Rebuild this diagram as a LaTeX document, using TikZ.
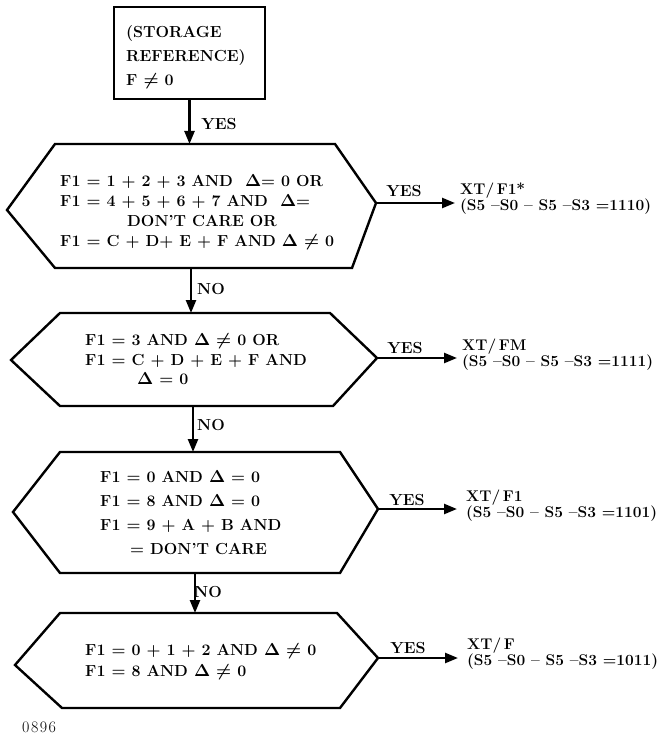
\documentclass[tikz,border=0pt]{standalone}
\usetikzlibrary{arrows.meta}
\tikzset{
  ln/.style={line width=2.4pt, line join=miter},
  boxln/.style={line width=2.6pt},
  arr/.style={line width=2.4pt, -{Triangle[length=13pt,width=10pt]}},
  lbl/.style={inner sep=0pt, font=\fontsize{16}{17}\selectfont\bfseries\boldmath},
  blk/.style={inner sep=0pt, anchor=west, align=left},
}
\begin{document}
\begin{tikzpicture}[x=1pt,y=-1pt]
\useasboundingbox (0,0) rectangle (658,735);

% top box
\node[draw, boxln, minimum width=151pt, minimum height=92pt, inner sep=0pt] (box) at (189.5,53) {};
\node[blk, font=\fontsize{16}{24}\selectfont\bfseries\boldmath] (boxt) at (126,57) {(STORAGE\\REFERENCE)\\F $\neq$ 0};

% hexagon 1
\draw[ln] (7,210) -- (55,144) -- (335,144) -- (376,203) -- (352,268) -- (55,268) -- cycle;
\coordinate (h1t) at (189.5,144);
\coordinate (h1b) at (191,268);
\coordinate (h1r) at (376,203);
\node[blk, font=\fontsize{16}{20}\selectfont\bfseries\boldmath] (t1) at (60,212) {F1 = 1 + 2 + 3 AND \ $\Delta$= 0 OR\\F1 = 4 + 5 + 6 + 7 AND \ $\Delta$=\\\hspace*{67pt}DON'T CARE OR\\F1 = C + D+ E + F AND $\Delta$ $\neq$ 0};

% hexagon 2
\draw[ln] (11,360) -- (60,313) -- (330,313) -- (377,358) -- (333,406) -- (60,406) -- cycle;
\coordinate (h2t) at (191,313);
\coordinate (h2b) at (193,406);
\coordinate (h2r) at (377,358);
\node[blk, font=\fontsize{16}{19.5}\selectfont\bfseries\boldmath] (t2) at (85,359.5) {F1 = 3 AND $\Delta$ $\neq$ 0 OR\\F1 = C + D + E + F AND\\\hspace*{52pt}$\Delta$ = 0};

% hexagon 3
\draw[ln] (13,512) -- (60,452) -- (340,452) -- (378,509) -- (340,573) -- (60,573) -- cycle;
\coordinate (h3t) at (193,452);
\coordinate (h3b) at (195,573);
\coordinate (h3r) at (378,509);
\node[blk, font=\fontsize{16}{24}\selectfont\bfseries\boldmath] (t3) at (100,513) {F1 = 0 AND $\Delta$ = 0\\F1 = 8 AND $\Delta$ = 0\\F1 = 9 + A + B AND\\\hspace*{30pt}= DON'T CARE};

% hexagon 4
\draw[ln] (15,665) -- (60,613) -- (337,613) -- (378,658) -- (340,708) -- (62,708) -- cycle;
\coordinate (h4t) at (195,613);
\coordinate (h4r) at (378,658);
\node[blk, font=\fontsize{16}{21}\selectfont\bfseries\boldmath] (t4) at (85,662) {F1 = 0 + 1 + 2 AND $\Delta$ $\neq$ 0\\F1 = 8 AND $\Delta$ $\neq$ 0};

% vertical connectors
\draw[arr] (box.south) -- (h1t);
\node[lbl] (yes0) at (219,124) {YES};
\draw[arr] (h1b) -- (h2t);
\node[lbl] (no1) at (211,289) {NO};
\draw[arr] (h2b) -- (h3t);
\node[lbl] (no2) at (211,425) {NO};
\draw[arr] (h3b) -- (h4t);
\node[lbl] (no3) at (208,592) {NO};

% right outputs
\coordinate (e1) at (455,203);
\draw[arr] (h1r) -- (e1);
\node[lbl] (y1) at (404,191) {YES};
\node[blk, font=\fontsize{15.5}{14}\selectfont\bfseries\boldmath] (o1) at (460,198.5) {XT/\,F1*\\(S5 --S0 -- S5 --S3 =1110)};

\coordinate (e2) at (457,358);
\draw[arr] (h2r) -- (e2);
\node[lbl] (y2) at (405,348) {YES};
\node[blk, font=\fontsize{15.5}{15}\selectfont\bfseries\boldmath] (o2) at (462,354.5) {XT/\,FM\\(S5 --S0 -- S5 --S3 =1111)};

\coordinate (e3) at (457,509);
\draw[arr] (h3r) -- (e3);
\node[lbl] (y3) at (407,500) {YES};
\node[blk, font=\fontsize{15.5}{16}\selectfont\bfseries\boldmath] (o3) at (466,506) {XT/\,F1\\(S5 --S0 -- S5 --S3 =1101)};

\coordinate (e4) at (458,658);
\draw[arr] (h4r) -- (e4);
\node[lbl] (y4) at (408,648) {YES};
\node[blk, font=\fontsize{15.5}{16}\selectfont\bfseries\boldmath] (o4) at (467,654) {XT/\,F\\(S5 --S0 -- S5 --S3 =1011)};

% figure number
\node[inner sep=0pt, anchor=west, font=\fontsize{16}{16}\selectfont] (num) at (22,727) {0\kern1.5pt8\kern1.5pt9\kern1.5pt6};
\end{tikzpicture}
\end{document}
